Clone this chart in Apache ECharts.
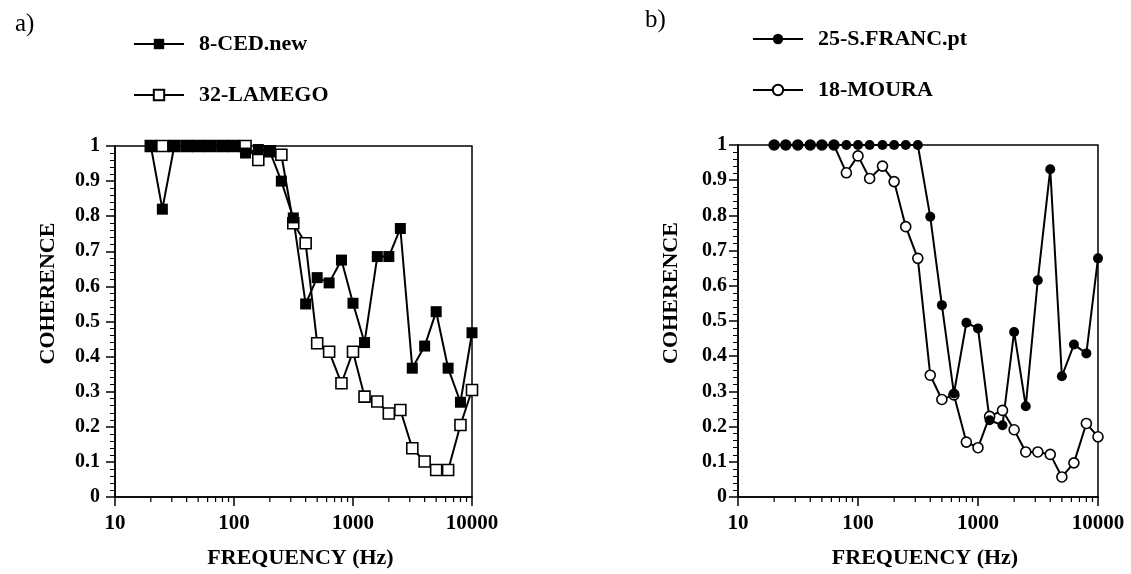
<!DOCTYPE html>
<html>
<head>
<meta charset="utf-8">
<script src="https://cdn.jsdelivr.net/npm/echarts@6/dist/echarts.min.js"></script>
<style>
  html, body { margin: 0; padding: 0; background: #fff; }
  #chart { width: 1131px; height: 574px; }
</style>
</head>
<body>
<div id="chart"></div>
<script>
// third-octave band centres (Hz)
const freqs = [20, 25, 31.5, 40, 50, 63, 80, 100, 125, 160, 200, 250, 315, 400, 500, 630, 800, 1000, 1250, 1600, 2000, 2500, 3150, 4000, 5000, 6300, 8000, 10000]

// panel a
const ced = [1.0, 0.82, 1.0, 1.0, 1.0, 1.0, 1.0, 1.0, 0.98, 0.99, 0.985, 0.9, 0.795, 0.55, 0.625, 0.61, 0.675, 0.552, 0.44, 0.685, 0.685, 0.765, 0.367, 0.43, 0.528, 0.367, 0.27, 0.468]
const lamego = [1.0, 1.0, 1.0, 1.0, 1.0, 1.0, 1.0, 1.0, 1.0, 0.96, 0.985, 0.975, 0.78, 0.723, 0.438, 0.414, 0.324, 0.414, 0.286, 0.272, 0.238, 0.248, 0.139, 0.101, 0.077, 0.077, 0.205, 0.305]

// panel b
const sfranc = [1, 1, 1, 1, 1, 1, 1, 1, 1, 1, 1, 1, 1, 0.796, 0.545, 0.294, 0.495, 0.479, 0.218, 0.204, 0.469, 0.258, 0.616, 0.931, 0.343, 0.433, 0.408, 0.678]
const moura = [1, 1, 1, 1, 1, 1, 0.921, 0.969, 0.905, 0.94, 0.896, 0.768, 0.678, 0.346, 0.277, 0.29, 0.156, 0.14, 0.229, 0.246, 0.191, 0.128, 0.128, 0.121, 0.057, 0.097, 0.209, 0.171]

// minor ticks of the log axis (2..9 in each decade)
const decades = [10, 100, 1000]
const multipliers = [2, 3, 4, 5, 6, 7, 8, 9]

const font = 'Liberation Serif'
const pairs = (ys) => freqs.map((f, i) => [f, ys[i]])
const minorTicks = []
decades.forEach(d => multipliers.forEach(m => minorTicks.push([d * m, 0])))

function xAxis (idx) {
  return {
    type: 'log',
    logBase: 10,
    gridIndex: idx,
    min: 10,
    max: 10000,
    name: 'FREQUENCY (Hz)',
    nameLocation: 'middle',
    nameGap: 50,
    nameTextStyle: {fontFamily: font, fontWeight: 'bold', fontSize: 22, color: '#000', padding: [0, 0, 0, 14]},
    axisLine: {lineStyle: {color: '#000', width: 1.5}},
    axisTick: {length: 9, lineStyle: {color: '#000', width: 1.5}},
    axisLabel: {
      margin: 16,
      fontFamily: font,
      fontWeight: 'bold',
      fontSize: 21,
      color: '#000',
      formatter: v => String(Math.round(v))
    },
    splitLine: {show: false}
  }
}

function yAxis (idx, labelGap) {
  return {
    type: 'value',
    gridIndex: idx,
    min: 0,
    max: 1,
    interval: 0.1,
    name: 'COHERENCE',
    nameLocation: 'middle',
    nameGap: 56,
    nameTextStyle: {fontFamily: font, fontWeight: 'bold', fontSize: 22, color: '#000', padding: [0, 0, 0, 56]},
    axisLine: {show: true, lineStyle: {color: '#000', width: 1.5}},
    axisTick: {show: true, length: 9, lineStyle: {color: '#000', width: 1.5}},
    minorTick: {show: true, splitNumber: 5, length: 5, lineStyle: {color: '#000', width: 1}},
    axisLabel: {margin: labelGap, fontFamily: font, fontWeight: 'bold', fontSize: 20, color: '#000'},
    splitLine: {show: false}
  }
}

function minorTickSeries (idx) {
  return {
    type: 'custom',
    xAxisIndex: idx,
    yAxisIndex: idx,
    silent: true,
    clip: false,
    data: minorTicks,
    renderItem: (params, api) => {
      const p = api.coord([api.value(0), 0])
      return {
        type: 'line',
        shape: {x1: p[0], y1: p[1], x2: p[0], y2: p[1] + 5},
        style: {stroke: '#000', lineWidth: 1.2}
      }
    }
  }
}

const line = {color: '#000', width: 2}
const filled = {color: '#000'}
const open = {color: '#fff', borderColor: '#000', borderWidth: 1.6}
const legendText = {fontFamily: font, fontWeight: 'bold', fontSize: 22, color: '#000', padding: [0, 0, 0, 10]}

const option = {
  animation: false,
  backgroundColor: '#fff',
  title: [
    {text: 'a)', left: 10, top: 7, textStyle: {fontFamily: font, fontWeight: 'normal', fontSize: 25, color: '#000'}},
    {text: 'b)', left: 640, top: 3, textStyle: {fontFamily: font, fontWeight: 'normal', fontSize: 25, color: '#000'}}
  ],
  legend: [
    {
      data: ['8-CED.new', '32-LAMEGO'],
      orient: 'vertical',
      left: 128,
      top: 28,
      itemWidth: 50,
      itemHeight: 13,
      itemGap: 29,
      textStyle: legendText
    },
    {
      data: ['25-S.FRANC.pt', '18-MOURA'],
      orient: 'vertical',
      left: 747,
      top: 23,
      itemWidth: 50,
      itemHeight: 13,
      itemGap: 29,
      textStyle: legendText
    }
  ],
  grid: [
    {left: 115, top: 146, width: 357, height: 351, show: true, borderColor: '#000', borderWidth: 1.5},
    {left: 738, top: 145, width: 360, height: 352, show: true, borderColor: '#000', borderWidth: 1.5}
  ],
  xAxis: [xAxis(0), xAxis(1)],
  yAxis: [yAxis(0, 15), yAxis(1, 11)],
  series: [
    minorTickSeries(0),
    minorTickSeries(1),
    {
      name: '32-LAMEGO',
      type: 'line',
      xAxisIndex: 0,
      yAxisIndex: 0,
      data: pairs(lamego),
      symbol: 'rect',
      symbolSize: 11,
      lineStyle: line,
      itemStyle: open
    },
    {
      name: '8-CED.new',
      type: 'line',
      xAxisIndex: 0,
      yAxisIndex: 0,
      data: pairs(ced),
      symbol: 'rect',
      symbolSize: 11,
      lineStyle: line,
      itemStyle: filled
    },
    {
      name: '18-MOURA',
      type: 'line',
      xAxisIndex: 1,
      yAxisIndex: 1,
      data: pairs(moura),
      symbol: 'circle',
      symbolSize: 10,
      lineStyle: line,
      itemStyle: open
    },
    {
      name: '25-S.FRANC.pt',
      type: 'line',
      xAxisIndex: 1,
      yAxisIndex: 1,
      data: pairs(sfranc),
      symbol: 'circle',
      symbolSize: 10,
      lineStyle: line,
      itemStyle: filled
    }
  ]
}

const myChart = echarts.init(document.getElementById('chart'))
myChart.setOption(option)
</script>
</body>
</html>
